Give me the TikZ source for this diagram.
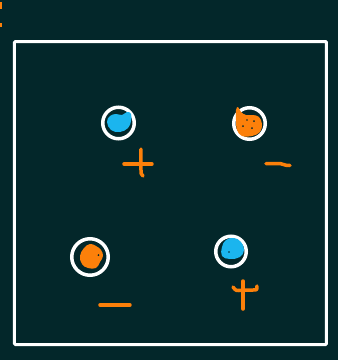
\documentclass[tikz,border=0pt]{standalone}
\definecolor{bgc}{HTML}{03272A}
\definecolor{blu}{HTML}{1BB5EE}
\definecolor{org}{HTML}{FC800A}
\begin{document}
\begin{tikzpicture}[x=1pt,y=-1pt,
  ring/.style={circle,draw=white,line width=3.5pt,inner sep=0pt},
  sign/.style={draw=org,line width=3.5pt,line cap=round,line join=round},
  blob/.style={line join=round}]
\useasboundingbox (0,0) rectangle (338,360);
\fill[bgc] (0,0) rectangle (338,360);
% top-left marks
\draw[org,line width=2.5pt] (1,2) -- (1,9);
\draw[org,line width=2.5pt] (1,23) -- (1,27);
% frame
\draw[white,line width=3pt,rounded corners=1pt] (14.5,41.5) rectangle (326.5,344.5);
% rings
\node[ring,minimum size=31.5pt] (c1) at (118.5,123) {};
\node[ring,minimum size=31.5pt] (c2) at (249.5,123.5) {};
\node[ring,minimum size=36.5pt] (c3) at (90,257) {};
\node[ring,minimum size=30.5pt] (c4) at (231,251.5) {};
% blobs
\fill[blu,blob] plot[smooth cycle,tension=0.7] coordinates {(107,122) (110,116) (116,114) (122,115) (127,112) (131,114) (131,121) (128,128) (120,132) (111,130)};
\fill[org,blob] plot[smooth cycle,tension=0.6] coordinates {(238,107) (241,112) (246,115) (253,115) (259,117) (262,124) (260,132) (252,136) (242,136) (237,130) (236,120) (236,110)};
\fill[bgc] (243,126) circle (1pt) (252,128) circle (1pt) (254,121) circle (1pt) (247,120) circle (0.8pt);
\fill[org,blob] plot[smooth cycle,tension=0.7] coordinates {(84,248) (90,244) (96,246) (101,250) (103,256) (100,262) (96,268) (88,268) (82,264) (80,256)};
\fill[bgc] (98.5,255) circle (1pt);
\fill[blu,blob] plot[smooth cycle,tension=0.7] coordinates {(222,247) (226,240) (234,238) (241,242) (244,250) (240,257) (230,259) (222,256)};
\fill[bgc] (229,252) circle (0.8pt);
% signs
\draw[sign] (124,164) -- (152,164);
\draw[sign] (141,149) -- (141,170) .. controls (141,174) .. (143,176);
\draw[sign] (266,163.5) -- (280,163.5) .. controls (283,163.5) and (283,165.5) .. (290,165.5);
\draw[sign] (100,305) -- (130,305);
\draw[sign] (233,287) .. controls (236,291) .. (243,290) -- (253,290) .. controls (257,290) .. (257,286);
\draw[sign] (243,281) -- (243,309);
\end{tikzpicture}
\end{document}
